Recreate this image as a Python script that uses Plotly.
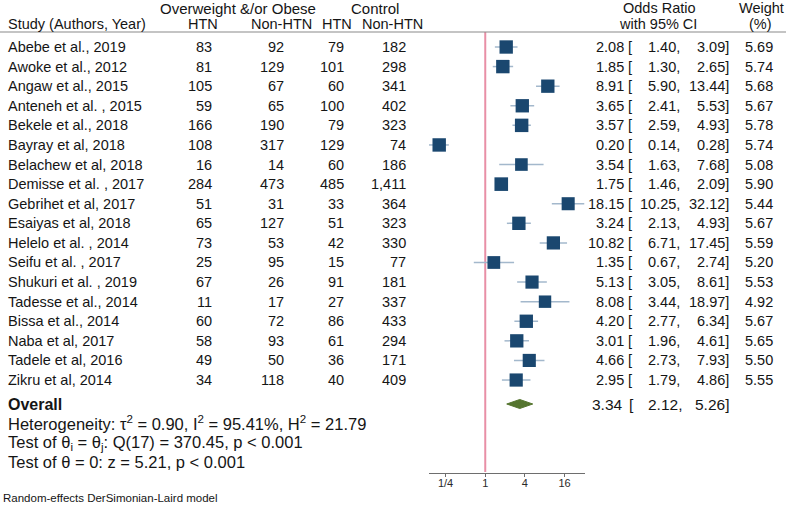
import math
import plotly.graph_objects as go

# ---------------- data ----------------
studies = ["Abebe et al., 2019", "Awoke et al., 2012", "Angaw et al., 2015", "Anteneh et al. , 2015",
           "Bekele et al., 2018", "Bayray et al, 2018", "Belachew et al, 2018", "Demisse et al. , 2017",
           "Gebrihet et al, 2017", "Esaiyas et al, 2018", "Helelo et al. , 2014", "Seifu et al. , 2017",
           "Shukuri et al. , 2019", "Tadesse et al., 2014", "Bissa et al., 2014", "Naba et al, 2017",
           "Tadele et al, 2016", "Zikru et al, 2014"]
ow_htn = [83, 81, 105, 59, 166, 108, 16, 284, 51, 65, 73, 25, 67, 11, 60, 58, 49, 34]
ow_nonhtn = [92, 129, 67, 65, 190, 317, 14, 473, 31, 127, 53, 95, 26, 17, 72, 93, 50, 118]
ctl_htn = [79, 101, 60, 100, 79, 129, 60, 485, 33, 51, 42, 15, 91, 27, 86, 61, 36, 40]
ctl_nonhtn = [182, 298, 341, 402, 323, 74, 186, 1411, 364, 323, 330, 77, 181, 337, 433, 294, 171, 409]
odds_ratio = [2.08, 1.85, 8.91, 3.65, 3.57, 0.20, 3.54, 1.75, 18.15, 3.24, 10.82, 1.35, 5.13, 8.08, 4.20, 3.01, 4.66, 2.95]
ci_low = [1.40, 1.30, 5.90, 2.41, 2.59, 0.14, 1.63, 1.46, 10.25, 2.13, 6.71, 0.67, 3.05, 3.44, 2.77, 1.96, 2.73, 1.79]
ci_high = [3.09, 2.65, 13.44, 5.53, 4.93, 0.28, 7.68, 2.09, 32.12, 4.93, 17.45, 2.74, 8.61, 18.97, 6.34, 4.61, 7.93, 4.86]
weights = [5.69, 5.74, 5.68, 5.67, 5.78, 5.74, 5.08, 5.90, 5.44, 5.67, 5.59, 5.20, 5.53, 4.92, 5.67, 5.65, 5.50, 5.55]
overall_or, overall_lo, overall_hi = 3.34, 2.12, 5.26
tick_values = [0.25, 1, 4, 16]
tick_labels = ["1/4", "1", "4", "16"]

# ---------------- geometry helpers ----------------
W, H = 792, 505
ROW0, ROWH = 47.0, 19.59          # pixel y of first row, row spacing


def px(x):
    return x / W


def py(y):
    return 1 - y / H


def row_of(ypix):
    return (ypix - ROW0) / ROWH


FONT = "Liberation Sans, Arial, sans-serif"
TXT = "#151515"
n = len(studies)
rows = list(range(n))
overall_row = row_of(404)
axis_row = row_of(472)
header_row = row_of(32)

lg = math.log2
fig = go.Figure()

# no-effect reference line
fig.add_trace(go.Scatter(x=[lg(1), lg(1)], y=[header_row, axis_row], mode="lines",
                         line=dict(color="#e88fa6", width=2), hoverinfo="skip", cliponaxis=False))

# confidence intervals
for i in rows:
    fig.add_trace(go.Scatter(x=[lg(ci_low[i]), lg(ci_high[i])], y=[i, i], mode="lines",
                             line=dict(color="#a3b8cc", width=1.5), hoverinfo="skip", cliponaxis=False))

# study squares
fig.add_trace(go.Scatter(x=[lg(v) for v in odds_ratio], y=rows, mode="markers",
                         marker=dict(symbol="square", color="#1a476f", opacity=1,
                                     size=[5.6 * math.sqrt(w) for w in weights], line=dict(width=0)),
                         cliponaxis=False, hoverinfo="skip"))

# overall diamond
dh = 0.23
fig.add_trace(go.Scatter(x=[lg(overall_lo), lg(overall_or), lg(overall_hi), lg(overall_or), lg(overall_lo)],
                         y=[overall_row, overall_row - dh, overall_row, overall_row + dh, overall_row],
                         mode="lines", fill="toself", fillcolor="#55752f", line=dict(color="#55752f", width=1),
                         cliponaxis=False, hoverinfo="skip"))

ann = []


def add(text, x, y, anchor="left", size=14.5, yref="y", bold=False, color=TXT):
    if bold:
        text = "<b>" + text + "</b>"
    ann.append(dict(text=text, x=px(x), xref="paper", y=y, yref=yref, xanchor=anchor, yanchor="middle",
                    showarrow=False, font=dict(family=FONT, size=size, color=color),
                    borderpad=0, borderwidth=0))


# headers
add("Overweight &amp;/or Obese", 238, py(8), "center", 15, "paper")
add("Control", 375, py(8), "center", 15, "paper")
add("Study (Authors, Year)", 8, py(24), "left", 14.5, "paper")
add("HTN", 203, py(24), "center", 14.5, "paper")
add("Non-HTN", 312, py(24), "right", 14.5, "paper")
add("HTN", 337, py(24), "center", 14.5, "paper")
add("Non-HTN", 362, py(24), "left", 14.5, "paper")
add("Odds Ratio", 659, py(8), "center", 14.5, "paper")
add("with 95% CI", 658, py(24), "center", 14.5, "paper")
add("Weight", 761, py(8), "center", 14.5, "paper")
add("(%)", 760, py(24), "center", 14.5, "paper")

# table rows
for i in rows:
    add(studies[i], 8, i)
    add(f"{ow_htn[i]:,}", 212, i, "right")
    add(f"{ow_nonhtn[i]:,}", 284, i, "right")
    add(f"{ctl_htn[i]:,}", 344, i, "right")
    add(f"{ctl_nonhtn[i]:,}", 406, i, "right")
    add(f"{odds_ratio[i]:.2f}", 624, i, "right")
    add("[", 628, i, "left")
    add(f"{ci_low[i]:.2f},", 680, i, "right")
    add(f"{ci_high[i]:.2f}]", 729, i, "right")
    add(f"{weights[i]:.2f}", 773, i, "right")

# overall
add("Overall", 8, overall_row, "left", 16, bold=True)
add(f"{overall_or:.2f}", 623, overall_row, "right", 15.5)
add("[", 629, overall_row, "left", 15.5)
add(f"{overall_lo:.2f},", 682, overall_row, "right", 15.5)
add(f"{overall_hi:.2f}]", 729, overall_row, "right", 15.5)

add("Heterogeneity: τ<sup>2</sup> = 0.90, I<sup>2</sup> = 95.41%, H<sup>2</sup> = 21.79", 8, row_of(423), "left", 16.5)
add("Test of θ<sub>i</sub> = θ<sub>j</sub>: Q(17) = 370.45, p &lt; 0.001", 8, row_of(443), "left", 16.5)
add("Test of θ = 0: z = 5.21, p &lt; 0.001", 8, row_of(462), "left", 16.5)
add("Random-effects DerSimonian-Laird model", 3, row_of(498), "left", 11.5)

fig.update_layout(
    width=W, height=H, margin=dict(l=0, r=0, t=0, b=0),
    paper_bgcolor="white", plot_bgcolor="white", showlegend=False,
    annotations=ann,
    shapes=[dict(type="line", xref="paper", yref="y", x0=0, x1=px(786), y0=header_row, y1=header_row,
                 line=dict(color="#8a8a8a", width=1.2))],
    xaxis=dict(domain=[px(429), px(584.5)], range=[lg(min(ci_low)), lg(max(ci_high))],
               showgrid=False, zeroline=False, showline=True, linecolor="#6e6e6e", linewidth=1,
               ticks="outside", ticklen=3, tickcolor="#6e6e6e", ticklabelstandoff=-3,
               tickvals=[lg(v) for v in tick_values], ticktext=tick_labels,
               tickfont=dict(family=FONT, size=11, color="#2a2a2a"),
               anchor="free", position=py(472.5), fixedrange=True),
    yaxis=dict(domain=[0, 1], range=[row_of(H), row_of(0)], visible=False, fixedrange=True),
)

fig.write_html("out.html", config={"displayModeBar": False},
               post_script="document.body.style.margin='0px';document.body.style.overflow='hidden';")
